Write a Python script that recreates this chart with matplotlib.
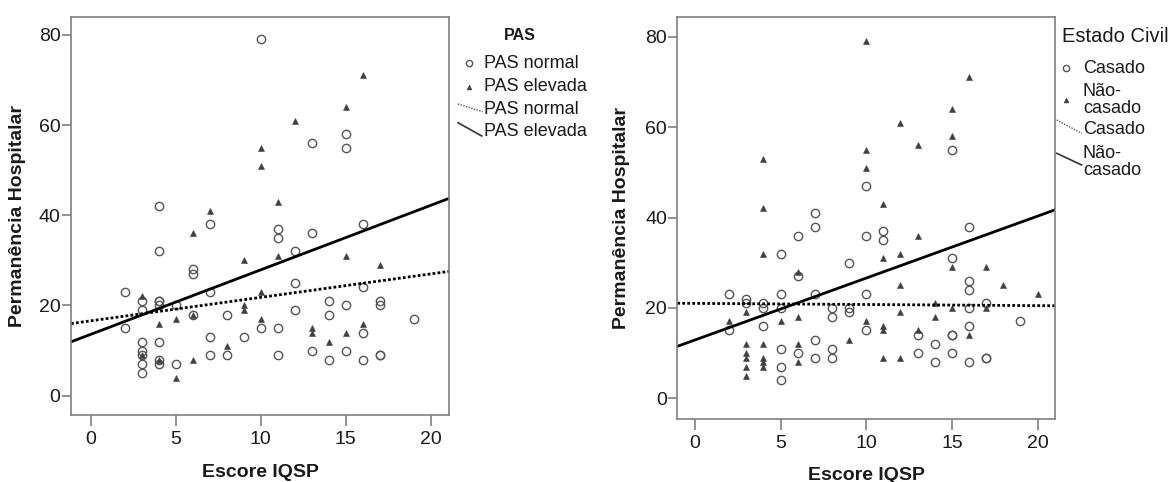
import numpy as np
import matplotlib
matplotlib.use("Agg")
import matplotlib.pyplot as plt
from matplotlib.lines import Line2D

plt.rcParams["font.family"] = ["Liberation Sans", "DejaVu Sans"]

# =========================
# Data
# =========================
# left panel: PAS
PAS_NORMAL_X = [10, 13, 15, 15, 4, 7, 11, 11, 13, 16, 4, 12, 6, 6, 12, 7, 2, 16, 3, 3,
                4, 4, 4, 5, 14, 15, 17, 17, 12, 2, 6, 8, 14, 10, 11, 16, 19, 3, 3, 3,
                3, 3, 4, 4, 4, 5, 7, 7, 8, 9, 11, 13, 14, 15, 16, 17, 17]
PAS_NORMAL_Y = [79, 56, 58, 55, 42, 38, 37, 35, 36, 38, 32, 32, 28, 27, 25, 23, 23, 24, 21, 19,
                21, 21, 20, 20, 21, 20, 21, 20, 19, 15, 18, 18, 18, 15, 15, 14, 17, 12, 10, 9,
                7, 5, 12, 8, 7, 7, 13, 9, 9, 13, 9, 10, 8, 10, 8, 9, 9]
PAS_ELEV_X = [16, 15, 12, 10, 10, 11, 7, 6, 9, 11, 15, 17, 10, 3, 4, 5, 9, 9, 10, 13,
              13, 15, 16, 14, 8, 6, 5, 3, 4, 6]
PAS_ELEV_Y = [71, 64, 61, 55, 51, 43, 41, 36, 30, 31, 31, 29, 23, 22, 16, 17, 20, 19, 17, 15,
              14, 14, 16, 12, 11, 8, 4, 9, 8, 18]

# right panel: Estado Civil
CASADO_X = [15, 10, 7, 7, 6, 10, 11, 11, 16, 5, 9, 15, 16, 16, 6, 2, 5, 7, 10, 3,
            3, 4, 4, 5, 8, 8, 9, 9, 17, 16, 4, 2, 10, 13, 15, 15, 16, 19, 7, 5,
            8, 14, 6, 7, 8, 5, 5, 13, 15, 14, 16, 17, 17]
CASADO_Y = [55, 47, 41, 38, 36, 36, 37, 35, 38, 32, 30, 31, 26, 24, 27, 23, 23, 23, 23, 22,
            21, 21, 20, 20, 20, 18, 20, 19, 21, 20, 16, 15, 15, 14, 14, 14, 16, 17, 13, 11,
            11, 12, 10, 9, 9, 7, 4, 10, 10, 8, 8, 9, 9]
NAO_CASADO_X = [10, 16, 15, 12, 15, 13, 10, 10, 4, 11, 4, 13, 4, 12, 11, 15, 17, 18, 12, 6,
                20, 3, 17, 15, 14, 2, 5, 6, 10, 11, 11, 12, 13, 14, 16, 9, 3, 3, 3, 3,
                3, 4, 4, 4, 4, 6, 6, 11, 12]
NAO_CASADO_Y = [79, 71, 64, 61, 58, 56, 55, 51, 53, 43, 42, 36, 32, 32, 31, 29, 29, 25, 25, 28,
                23, 19, 20, 20, 21, 17, 17, 18, 17, 16, 15, 19, 15, 18, 14, 13, 12, 10, 9, 7,
                5, 12, 9, 8, 7, 12, 8, 9, 9]

# fitted lines (intercept, slope) as drawn in the reference
FIT_PAS_NORMAL = (16.6, 0.52)
FIT_PAS_ELEV = (13.6, 1.43)
FIT_CASADO = (21.0, -0.025)
FIT_NAO_CASADO = (12.9, 1.37)

XTICKS = [0, 5, 10, 15, 20]
YTICKS = [0, 20, 40, 60, 80]

# =========================
# Style
# =========================
W, H = 1172, 482
FRAME = "#808080"
TXT = "#1a1a1a"
CIRC = dict(marker="o", ms=6.0, mfc="none", mec="#555555", mew=1.0, ls="none")
TRI = dict(marker="^", ms=4.3, mfc="#404040", mec="#404040", mew=0.4, ls="none")
DOT = dict(color="black", lw=2.0, ls=(0, (1, 0.8)))
SOLID = dict(color="black", lw=2.0, ls="-")


def fx(px):
    return px / W


def fy(py):
    return 1 - py / H


def style_axes(ax, xlim, ylim):
    ax.set_xlim(*xlim)
    ax.set_ylim(*ylim)
    ax.set_xticks(XTICKS)
    ax.set_yticks(YTICKS)
    for s in ax.spines.values():
        s.set_color(FRAME)
        s.set_linewidth(1.2)
    ax.tick_params(direction="out", width=1.2, color=FRAME,
                   labelsize=14, labelcolor=TXT)
    ax.tick_params(axis="x", length=8, pad=3.5)
    ax.tick_params(axis="y", length=6.5, pad=1)
    ax.set_xlabel("Escore IQSP", fontsize=14, fontweight="bold", color=TXT)
    ax.set_ylabel("Permanência Hospitalar", fontsize=14, fontweight="bold", color=TXT)


def fit_line(ax, coef, **kw):
    x0, x1 = ax.get_xlim()
    xs = np.array([x0, x1])
    ax.plot(xs, coef[0] + coef[1] * xs, **kw)


fig = plt.figure(figsize=(W / 100, H / 100), dpi=100)

# ---- left panel ----
ax1 = fig.add_axes([fx(71), fy(415), fx(449) - fx(71), fy(17.3) - fy(415)])
style_axes(ax1, (-1.16, 21.08), (-4.28, 83.9))
ax1.plot(PAS_NORMAL_X, PAS_NORMAL_Y, **CIRC)
ax1.plot(PAS_ELEV_X, PAS_ELEV_Y, **TRI)
fit_line(ax1, FIT_PAS_NORMAL, **DOT)
fit_line(ax1, FIT_PAS_ELEV, **SOLID)
ax1.xaxis.set_label_coords(0.5, -0.122)
ax1.yaxis.set_label_coords(-0.119, 0.5)

# ---- right panel ----
ax2 = fig.add_axes([fx(677.3), fy(419.3), fx(1055) - fx(677.3), fy(17.3) - fy(419.3)])
style_axes(ax2, (-1.03, 21.02), (-4.65, 84.3))
ax2.plot(CASADO_X, CASADO_Y, **CIRC)
ax2.plot(NAO_CASADO_X, NAO_CASADO_Y, **TRI)
fit_line(ax2, FIT_CASADO, **DOT)
fit_line(ax2, FIT_NAO_CASADO, **SOLID)
ax2.xaxis.set_label_coords(0.5, -0.118)
ax2.yaxis.set_label_coords(-0.125, 0.5)


# ---- legends (drawn by hand, SPSS style) ----
def leg_marker(px, py, style):
    fig.add_artist(Line2D([fx(px)], [fy(py)], transform=fig.transFigure, **style))


def leg_line(p0, p1, style):
    fig.add_artist(Line2D([fx(p0[0]), fx(p1[0])], [fy(p0[1]), fy(p1[1])],
                          transform=fig.transFigure, **style))


def leg_text(px, py, s, size=13, **kw):
    fig.text(fx(px), fy(py), s, ha="left", va="center", fontsize=size,
             color=TXT, linespacing=0.95, **kw)


LEG_DOT = dict(color="#555555", lw=1.0, ls=(0, (1, 1)))
LEG_SOLID = dict(color="#333333", lw=1.2, ls="-")
LEG_CIRC = dict(CIRC, ms=4.5)
LEG_TRI = dict(TRI, ms=3.5)

fig.text(fx(520), fy(35), "PAS", ha="center", va="center", fontsize=11.5,
         fontweight="bold", color=TXT)
leg_marker(469, 63, LEG_CIRC)
leg_text(484, 63, "PAS normal")
leg_marker(469, 86.7, LEG_TRI)
leg_text(484, 86.7, "PAS elevada")
leg_line((458, 104), (482.7, 111.7), LEG_DOT)
leg_text(484, 109, "PAS normal")
leg_line((458, 122.7), (481.7, 136), LEG_SOLID)
leg_text(484, 131.7, "PAS elevada")

leg_text(1062, 36.7, "Estado Civil", size=14.5)
leg_marker(1066, 68.3, LEG_CIRC)
leg_text(1083, 68.3, "Casado")
leg_marker(1066, 100, LEG_TRI)
leg_text(1083, 100, "Não-\ncasado")
leg_line((1056.7, 120), (1081.7, 133.3), LEG_DOT)
leg_text(1083, 130, "Casado")
leg_line((1056.7, 153.3), (1081.7, 165), LEG_SOLID)
leg_text(1083, 162, "Não-\ncasado")

fig.savefig("out.png", dpi=100)
